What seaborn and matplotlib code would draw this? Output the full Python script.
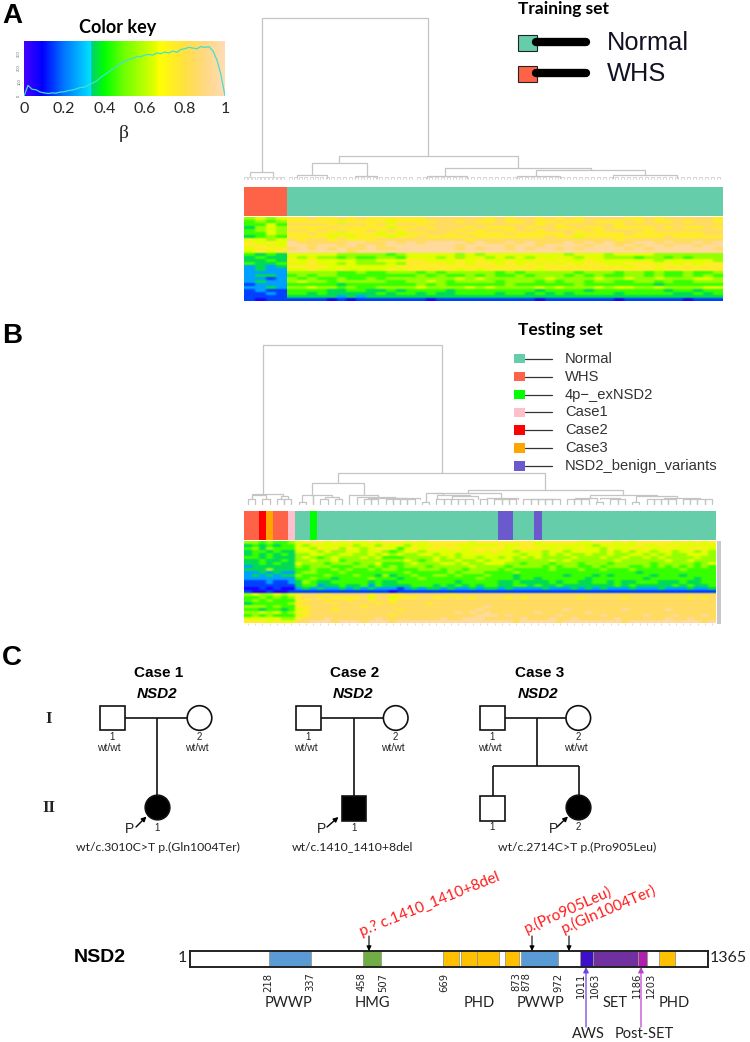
import numpy as np
import matplotlib
matplotlib.use('Agg')
import matplotlib.pyplot as plt
from matplotlib.colors import LinearSegmentedColormap, ListedColormap
from matplotlib.patches import Rectangle, Circle
import seaborn as sns

W, H = 750, 1042

# colour key
key_nodes = [(0, '#4400ff'), (0.09, '#0000ff'), (0.2, '#0078ff'), (0.332, '#00e0ff'), (0.336, '#00d070'),
             (0.40, '#00ff00'), (0.5, '#70ff00'), (0.66, '#e8ff00'), (0.67, '#ffff00'), (0.8, '#ffe040'),
             (0.9, '#ffd880'), (1, '#ffdcb4')]
key_ticks = [0, 0.2, 0.4, 0.6, 0.8, 1]
key_tick_labels = ['0', '0.2', '0.4', '0.6', '0.8', '1']
count_ticks = [0, 100, 200, 300]
hist_counts = [0, 75, 48, 44, 28, 22, 18, 22, 20, 28,
               30, 38, 42, 50, 60, 62, 78, 92, 105, 130,
               150, 170, 190, 205, 230, 245, 258, 265, 280, 278,
               290, 295, 290, 305, 300, 312, 305, 318, 310, 330,
               335, 345, 340, 335, 350, 345, 350, 320, 255, 150, 0]

# training heatmap, one digit per cell: beta = (digit + 0.5) / 10
train_rows = [
    "5656 7787 7878 7777 7788 8888 7878 8787 8788 8877 8788 8887",
    "4545 7777 7677 7767 7778 8787 7877 8778 7787 7787 8778 7887",
    "4464 8888 7888 7878 8788 8888 8888 8787 8888 8788 8888 8888",
    "3565 7777 8777 7767 7878 8878 7778 7887 7877 8777 7878 7787",
    "4565 8878 7877 8787 8888 8787 8878 8788 8787 8888 7888 8888",
    "4465 7787 7677 7676 7788 7877 7787 7777 8777 7787 7777 7788",
    "3454 7777 6767 7767 7877 7787 7777 7787 7677 7777 7787 7777",
    "6656 8788 7877 7888 8888 8878 8888 8888 8888 8788 8888 8888",
    "7676 9888 8899 8898 9899 9989 8898 9888 9898 9889 9898 8989",
    "7766 9989 9898 9899 9999 9899 9989 9899 9989 9898 9989 9899",
    "6777 8989 8988 9889 9999 9898 9989 8998 9899 9989 8999 9998",
    "6767 9999 9989 9999 9999 9999 9999 9999 9999 9999 9999 9999",
    "4343 6666 6555 5545 6666 6565 6666 6666 5666 5666 6555 5555",
    "3433 6565 5454 4554 6665 6566 5656 5666 6566 5554 5545 4555",
    "3343 7676 6665 5666 7766 6767 6676 6767 6676 6666 6566 6665",
    "4334 6676 6565 5565 7777 6767 7676 7676 7677 6677 7676 7677",
    "2323 7777 6666 6667 7777 7777 7777 7777 7777 7767 7777 7777",
    "2322 6676 6766 6676 7777 7676 7777 7677 7777 7777 7677 7777",
    "2222 5555 5445 4455 5454 5555 5454 5555 5455 5455 4544 5445",
    "2332 4545 5444 4444 4545 4454 5445 4555 4545 4455 4544 5454",
    "2212 5454 4544 5455 5555 5656 5555 5565 5556 5565 5655 5665",
    "2322 5655 4555 5544 5565 4555 5455 5454 5545 5445 5454 4555",
    "1222 4444 4344 4444 4545 4444 4454 4444 4544 4444 4344 4444",
    "2232 5565 5454 4555 5655 5565 6555 5656 5556 5665 5655 5566",
    "1211 4444 3344 3343 4444 3444 4444 4344 4434 4444 4434 4344",
    "1121 4434 3333 3434 4343 3444 4344 3434 3444 4344 4443 3434",
    "1111 3333 3232 3333 3333 3333 3333 3333 3333 3333 3333 3333",
    "1011 1111 0101 1111 1101 1111 1111 1011 1111 1011 1111 0111",
]
test_rows = [
    "55454 45677 76767 66767 77676 77777 76777 77777 67777 76677 76767 77776 76767",
    "34343 44656 66666 56656 66566 67776 66666 76677 66666 66656 66667 66767 66666",
    "45354 44665 76757 65677 64676 77677 67777 76777 77676 67665 76676 76676 67776",
    "34434 33666 56556 65665 45665 66666 66767 66566 65665 66665 65656 65665 66565",
    "34343 43556 65566 55656 56556 65665 66666 66656 65656 55655 65566 56565 56665",
    "44343 33565 45655 56564 44555 56565 66566 56565 65555 65556 55655 65655 55655",
    "33433 43556 55645 55555 55654 56556 55656 66555 55656 55555 56555 55565 56555",
    "33434 33655 54555 45564 44565 55665 65566 65545 55455 54555 45555 54555 55456",
    "23333 33545 55444 55454 54555 45555 56555 54555 54545 54454 55544 54545 45454",
    "33353 33445 44545 44545 54445 55455 45555 45444 44544 45445 44454 44444 54444",
    "22323 22455 44454 44444 44544 44454 55544 44544 44444 44444 44443 44444 44444",
    "23232 33544 45444 54435 34454 45545 44454 44344 44443 44434 34444 43444 34444",
    "22222 22445 44344 44544 43445 44444 44544 44344 34444 44344 44444 34444 44344",
    "11121 12354 33444 44343 34444 44443 44444 33433 33434 43344 34334 44333 43344",
    "11111 11344 23343 34243 33344 43434 34344 33443 43343 33333 34343 33334 34334",
    "00101 00232 32232 32322 21232 33232 23233 23222 23222 32323 22232 22322 23223",
    "10010 01111 11111 11111 01111 11111 11111 11111 11111 11111 11111 11111 11111",
    "56556 56788 87888 88788 77888 88878 88888 88888 88888 88888 88888 88888 88888",
    "44545 45788 78777 78688 67778 87787 87888 87878 88888 87888 88788 88888 87878",
    "45454 44778 87887 88788 78888 88888 88888 88888 88888 88888 88888 88888 88888",
    "34444 45788 88788 88878 78888 78888 88888 88888 88888 88888 88888 88888 88888",
    "55545 44778 88888 87888 88888 88888 88898 88888 88888 88888 88888 88888 88888",
    "44344 34678 88788 88888 87888 88888 88988 88888 88889 88888 88988 88898 88888",
    "55656 45778 88888 88888 88888 88889 89898 88888 98888 88988 88888 88888 88888",
    "45454 44678 88888 88888 78888 88888 88999 89888 88898 88889 88888 98889 88898",
    "66666 55788 89888 88898 88888 88988 99988 88898 88988 98888 89888 88898 89888",
    "77767 66889 99899 98999 89999 99999 99999 99899 99989 99999 99899 99999 99989",
]

# sample groups along the top of each heatmap
train_colors = ['#ff6347', '#66cdaa']
train_runs = [(0, 9), (1, 91)]
test_groups = ['Normal', 'WHS', '4p\u2212_exNSD2', 'Case1', 'Case2', 'Case3', 'NSD2_benign_variants']
test_colors = ['#66cdaa', '#ff6347', '#00ff00', '#ffc0cb', '#ff0000', '#ffa500', '#6a5acd']
test_runs = [(1, 2), (4, 1), (5, 1), (1, 2), (3, 1), (0, 2), (2, 1), (0, 25), (6, 2), (0, 3), (6, 1), (0, 24)]

# dendrogram links: x left, x right, y top, y bottom left, y bottom right
train_links = [
    (261.7, 428.3, 18.3, 171.7, 156), (250, 273.3, 171.7, 176, 176), (338.7, 517.7, 156, 163.3, 168.3),
    (311.7, 366.7, 163.3, 175.3, 175.7), (296.7, 326.7, 175.3, 178, 178), (355, 377.3, 175.7, 178, 178),
    (445, 590.7, 168.3, 175.7, 170), (426.7, 466.7, 175.7, 178, 178), (536.3, 645, 170, 176, 175),
    (516.7, 560, 176, 178, 178), (613.3, 676.7, 175, 178, 178),
]
train_leaf_x = [245, 249, 253, 258, 262, 266, 270, 274, 278, 282, 290, 295, 300, 305, 311, 316, 321, 327, 332,
                338, 344, 350, 356, 362, 368, 374, 380, 386, 392, 398, 404, 410, 418, 424, 430, 436, 442, 448,
                454, 460, 466, 472, 478, 484, 490, 496, 502, 508, 514, 520, 526, 532, 538, 544, 550, 556, 562,
                568, 574, 580, 586, 592, 598, 604, 610, 616, 622, 628, 634, 640, 646, 652, 658, 664, 670, 676,
                682, 688, 694, 700, 706, 712, 718]
test_links = [
    (263.3, 441.7, 345.3, 493.7, 473), (337.7, 545.3, 473, 483.3, 490), (312.3, 364, 483.3, 495, 495),
    (467.7, 623.3, 490, 492.7, 495), (434.3, 501, 492.7, 493.3, 498.3), (252.3, 283.3, 493.7, 495, 496),
    (251.5, 266, 495, 499, 499), (280.9, 288.2, 496, 499, 499),
    (302.3, 331.7, 495, 502, 497), (313.2, 313.2, 495, 504.3, 504.3), (324.7, 339, 497, 499, 499),
    (349.3, 378.3, 495, 504.3, 496.5), (356.7, 395, 496.5, 504.3, 497.5), (367.8, 406, 497.5, 499, 498),
    (393, 420, 498, 499, 499), (425.6, 443.3, 493.3, 502, 495), (437, 470, 495, 499, 496),
    (452, 478, 496, 499, 499), (487, 518, 498.3, 499, 499), (530, 555, 498.6, 499, 499),
    (590, 656.7, 495, 498.3, 496), (575, 597, 498.3, 499, 502), (600, 620, 498.3, 499, 499),
    (635.8, 676.7, 496, 502, 498.3), (664, 700, 498.3, 499, 499),
]
test_leaf_pairs = [(0, 1), (2, 3), (4, 5), (5, 6), (10, 11), (12, 13), (16, 17), (17, 18), (19, 20), (20, 21), (21, 22),
                   (22, 23), (26, 27), (27, 28), (28, 29), (29, 30), (30, 31), (32, 33), (34, 35), (35, 36), (36, 37),
                   (38, 39), (39, 40), (40, 41), (41, 42), (42, 43), (44, 45), (45, 46), (46, 47), (50, 51), (51, 52),
                   (55, 56), (56, 57), (57, 58), (58, 59), (60, 61), (61, 62), (62, 63), (63, 64)]
test_low_pairs = [(7, 8), (24, 25), (48, 49), (53, 54)]

# legends
train_legend_names = ['Normal', 'WHS']
train_legend_y = [43, 74]
test_legend_y = [358.7, 376.7, 394.7, 412.3, 430, 448, 466]

# pedigrees
ped_titles = [(159, 'Case 1'), (355, 'Case 2'), (540, 'Case 3')]
ped_squares = [(100, 706, 25, 24, False), (296, 706, 24.5, 24, False), (480, 706, 25, 24, False),
               (341.5, 796, 24.5, 25, True), (480, 796, 25, 24.5, False)]
ped_circles = [(199.5, 718, False), (395.7, 718, False), (578.3, 718, False), (157.5, 807.5, True), (578.5, 807.5, True)]
ped_lines = [(125, 718, 187, 718), (157, 718, 157, 795), (320.5, 718, 383.5, 718), (353.6, 718, 353.6, 796),
             (505, 718, 566, 718), (536.6, 718, 536.6, 766), (493, 766, 578.6, 766), (493, 766, 493, 796),
             (578.6, 766, 578.6, 795)]
ped_arrows = [(136, 827, 146.5, 816.5), (327, 827, 338.5, 817), (557, 827, 568, 816.5)]
ped_small = [(112, 737, '1'), (199, 737, '2'), (307.6, 737, '1'), (395.5, 737, '2'), (492, 737, '1'), (578.6, 737, '2'),
             (157, 828, '1'), (353.6, 828, '1'), (492, 827, '1'), (578.6, 827, '2')]
ped_genotypes = [109, 197, 306, 393, 490, 576]
ped_proband = [130, 321, 553]
ped_variants = [(158, 'wt/c.3010C>T p.(Gln1004Ter)'), (352, 'wt/c.1410_1410+8del'), (577, 'wt/c.2714C>T p.(Pro905Leu)')]

# protein domains in residues, as drawn
domain_start = [209, 457, 668, 715, 758, 830, 874, 1030, 1062, 1181, 1238]
domain_end = [320, 505, 711, 758, 814, 869, 972, 1062, 1181, 1204, 1278]
domain_color = ['#5b9bd5', '#70ad47', '#ffc000', '#ffc000', '#ffc000', '#ffc000', '#5b9bd5', '#3c10c8', '#7030a0',
                '#b020b0', '#ffc000']
residue_labels = ['218', '337', '458', '507', '669', '873', '878', '972', '1011', '1063', '1186', '1203']
residue_pos = [207, 318, 452, 509, 671, 861, 887, 972, 1030, 1067, 1178, 1215]
domain_names = [(288, 'PWWP'), (372, 'HMG'), (479, 'PHD'), (540, 'PWWP'), (615, 'SET'), (674, 'PHD')]
mutation_x = [369, 532, 569]
mutation_text = [(363, 939, 22, 'p.? c.1410_1410+8del'), (528, 936, 24, 'p.(Pro905Leu)'), (565, 936, 23, 'p.(Gln1004Ter)')]

sns.set_theme(style='white')
plt.rcParams['font.family'] = ['Liberation Sans', 'DejaVu Sans']
LATO = ['Lato', 'DejaVu Sans']

cmap = LinearSegmentedColormap.from_list('beta', key_nodes, N=512)


def digits(rows):
    return np.array([[(int(c) + 0.5) / 10 for c in r.replace(' ', '')] for r in rows])


def place(x0, y0, x1, y1):
    return fig.add_axes([x0 / W, 1 - y1 / H, (x1 - x0) / W, (y1 - y0) / H])


def soften(image, dpi):
    # the reference heatmaps are a resampled bitmap, so smear the cells a little
    out = np.pad(image, ((4, 4), (4, 4), (0, 0)), mode='edge')
    for k, axis in (([1, 2, 3, 2, 1], 1), ([1, 2, 1], 0)):
        k = np.array(k, float) / sum(k)
        out = np.apply_along_axis(lambda v: np.convolve(v, k, mode='same'), axis, out)
    return out[4:-4, 4:-4], 0, 0


def heat(rect, data, hm_cmap, vmin, vmax, smooth=True):
    ax = place(*rect)
    sns.heatmap(data, cmap=hm_cmap, vmin=vmin, vmax=vmax, cbar=False, ax=ax, xticklabels=False, yticklabels=False)
    if smooth:
        ax.collections[0].set_agg_filter(soften)
    return ax


def draw_links(links):
    for xl, xr, top, bl, br in links:
        ov.plot([xl, xl, xr, xr], [bl, top, top, br], color='#c4c4c4', lw=0.9, solid_joinstyle='miter')


fig = plt.figure(figsize=(W / 100, H / 100), dpi=100)

# colour key with histogram on top
heat((24, 41, 225, 96), np.linspace(0, 1, 400)[None, :], cmap, 0, 1, smooth=False)
ax2 = place(24, 41, 225, 96)
ax2.patch.set_alpha(0)
sns.lineplot(x=np.linspace(0, 1, 51), y=hist_counts, color='#40e0d0', lw=0.9, ax=ax2)
ax2.set_xlim(0, 1)
ax2.set_ylim(0, 390)
ax2.set_xticks(key_ticks)
ax2.set_xticklabels(key_tick_labels, fontsize=11.5, family=LATO)
ax2.set_yticks(count_ticks)
ax2.set_yticklabels(count_ticks, fontsize=3, rotation=90, va='center', color='#666666')
ax2.tick_params(axis='x', length=0, pad=4)
ax2.tick_params(axis='y', length=1, width=0.4, pad=1, color='#888888')
sns.despine(ax=ax2, left=True, bottom=True)

# panel A
heat((244, 187, 723, 216), np.repeat([g for g, n in train_runs], [n for g, n in train_runs])[None, :],
     ListedColormap(train_colors), 0, 1, smooth=False)
train_matrix = digits(train_rows)
heat((244, 217, 287, 301), train_matrix[:, :4], cmap, 0, 1)
heat((287, 217, 723, 301), train_matrix[:, 4:], cmap, 0, 1)

# panel B
heat((244.3, 511, 715.7, 540), np.repeat([g for g, n in test_runs], [n for g, n in test_runs])[None, :],
     ListedColormap(test_colors), 0, 6, smooth=False)
ax = heat((244.3, 540.7, 715.7, 623.3), digits(test_rows), cmap, 0, 1)
ax.set_xticks(np.arange(65) + 0.5)
ax.set_xticklabels([])
ax.tick_params(axis='x', bottom=True, length=1.5, width=0.5, color='#cccccc', pad=0)

# protein bar
gene = place(190, 951, 707.6, 967)
sns.despine(ax=gene, top=False, right=False)
gene.barh(0.5, np.array(domain_end) - np.array(domain_start), left=domain_start, height=1, color=domain_color,
          edgecolor='#9a9a80', linewidth=0.6)
gene.set_xlim(1, 1365)
gene.set_ylim(0, 1)
gene.set_yticks([])
gene.set_xticks(residue_pos)
gene.set_xticklabels(residue_labels, rotation=90, fontsize=7.2, family='DejaVu Sans', color='#222222')
gene.tick_params(axis='x', length=0, pad=4)
for s in gene.spines.values():
    s.set_linewidth(1.4)
    s.set_color('#222222')

# overlay in pixel coordinates for everything that is schematic
ov = fig.add_axes([0, 0, 1, 1], zorder=5)
ov.set_xlim(0, W)
ov.set_ylim(H, 0)
ov.axis('off')
ov.patch.set_alpha(0)

# panel letters
for y, letter in [(16, 'A'), (336, 'B'), (658, 'C')]:
    ov.text(2, y, letter, fontsize=20, fontweight='bold', va='center', ha='left', color='black')

ov.text(118, 27, 'Color key', fontsize=13, fontweight='bold', family=LATO, ha='center', va='center', color='black')
ov.text(124, 133, '\u03b2', fontsize=14, family=['Liberation Serif', 'DejaVu Serif'], ha='center', va='center', color='#222222')

# dendrograms
draw_links(train_links)
for x in train_leaf_x:
    ov.plot([x - 1.5, x - 1.5, x + 1.5, x + 1.5], [179, 176.5, 176.5, 179], color='#d0d0d0', lw=0.6)
draw_links(test_links)
for pairs, top in [(test_leaf_pairs, 499), (test_low_pairs, 502)]:
    for a, b in pairs:
        xa, xb = 247.9 + 7.25 * a, 247.9 + 7.25 * b
        ov.plot([xa, xa, xb, xb], [504.3, top, top, 504.3], color='#c4c4c4', lw=0.9)
ov.add_patch(Rectangle((717, 541), 4, 83, color='#c8c8c8', lw=0))

# legend A
ov.text(518, 9, 'Training set', fontsize=12.5, fontweight='bold', family=LATO, va='center', color='black')
for y, name, col in zip(train_legend_y, train_legend_names, ['#66cdaa', '#ff6347']):
    ov.add_patch(Rectangle((517.5, y - 8), 19.5, 16, facecolor=col, edgecolor='#222222', lw=0.8))
    ov.plot([536, 586], [y - 1, y - 1], color='black', lw=6, solid_capstyle='round')
    ov.text(607, y, name, fontsize=18.3, va='center', color='#111122')

# legend B
ov.text(518, 330, 'Testing set', fontsize=12.5, fontweight='bold', family=LATO, va='center', color='black')
for y, name, col in zip(test_legend_y, test_groups, test_colors):
    ov.add_patch(Rectangle((514, y - 4.7), 11, 9.4, color=col, lw=0))
    ov.plot([525, 552], [y, y], color='#333333', lw=0.9)
    ov.text(565, y, name, fontsize=10.6, va='center', color='#333333')

# pedigrees
for x, t in ped_titles:
    ov.text(x, 673, t, fontsize=11, fontweight='bold', ha='center', va='center', color='black')
    ov.text(x - 2, 694, 'NSD2', fontsize=11, fontweight='bold', style='italic', ha='center', va='center', color='black')
ov.text(49, 719, 'I', fontsize=12, fontweight='bold', family='Liberation Serif', ha='center', va='center', color='#222222')
ov.text(49, 808, 'II', fontsize=12, fontweight='bold', family='Liberation Serif', ha='center', va='center', color='#222222')
for x0, y0, x1, y1 in ped_lines:
    ov.plot([x0, x1], [y0, y1], color='#111111', lw=1.2, solid_capstyle='butt')
for x, y, w, h, filled in ped_squares:
    ov.add_patch(Rectangle((x, y), w, h, facecolor='black' if filled else 'white', edgecolor='#111111', lw=1.2, zorder=3))
for x, y, filled in ped_circles:
    ov.add_patch(Circle((x, y), 12.3, facecolor='black' if filled else 'white', edgecolor='#111111', lw=1.2, zorder=3))
for x0, y0, x1, y1 in ped_arrows:
    ov.annotate('', xy=(x1, y1), xytext=(x0, y0), arrowprops=dict(arrowstyle='-|>', color='black', lw=1, mutation_scale=7,
                                                                 shrinkA=0, shrinkB=0))
for x, y, t in ped_small:
    ov.text(x, y, t, fontsize=7, ha='center', va='center', color='#222222')
for x in ped_genotypes:
    ov.text(x, 748, 'wt/wt', fontsize=7.5, ha='center', va='center', color='#222222')
for x in ped_proband:
    ov.text(x, 829, 'P', fontsize=10, ha='center', va='center', color='#222222')
for x, t in ped_variants:
    ov.text(x, 847, t, fontsize=8.8, family=LATO, ha='center', va='center', color='#222222')

# protein annotation
ov.text(74, 958, 'NSD2', fontsize=14, fontweight='bold', va='center', color='black')
ov.text(182, 958, '1', fontsize=11.5, family=LATO, ha='center', va='center', color='#222222')
ov.text(710, 958, '1365', fontsize=11.5, family=LATO, ha='left', va='center', color='#222222')
for x, t in domain_names:
    ov.text(x, 1003, t, fontsize=10.5, family=LATO, ha='center', va='center', color='#222222')
for x in mutation_x:
    ov.annotate('', xy=(x, 951), xytext=(x, 936), arrowprops=dict(arrowstyle='-|>', color='black', lw=0.8, mutation_scale=7,
                                                                 shrinkA=0, shrinkB=0))
for x, y, rot, t in mutation_text:
    ov.text(x, y, t, fontsize=11, family=LATO, color='#ff1a1a', rotation=rot, rotation_mode='anchor', ha='left', va='bottom')
for x, col in [(586, '#7040e0'), (641, '#c040d0')]:
    ov.annotate('', xy=(x, 967), xytext=(x, 1027), arrowprops=dict(arrowstyle='-|>', color=col, lw=0.9, mutation_scale=8,
                                                                  shrinkA=0, shrinkB=0))
ov.text(588, 1034, 'AWS', fontsize=10.5, family=LATO, ha='center', va='center', color='#222222')
ov.text(644, 1034, 'Post-SET', fontsize=10.5, family=LATO, ha='center', va='center', color='#222222')

fig.savefig('out.png', dpi=100)
